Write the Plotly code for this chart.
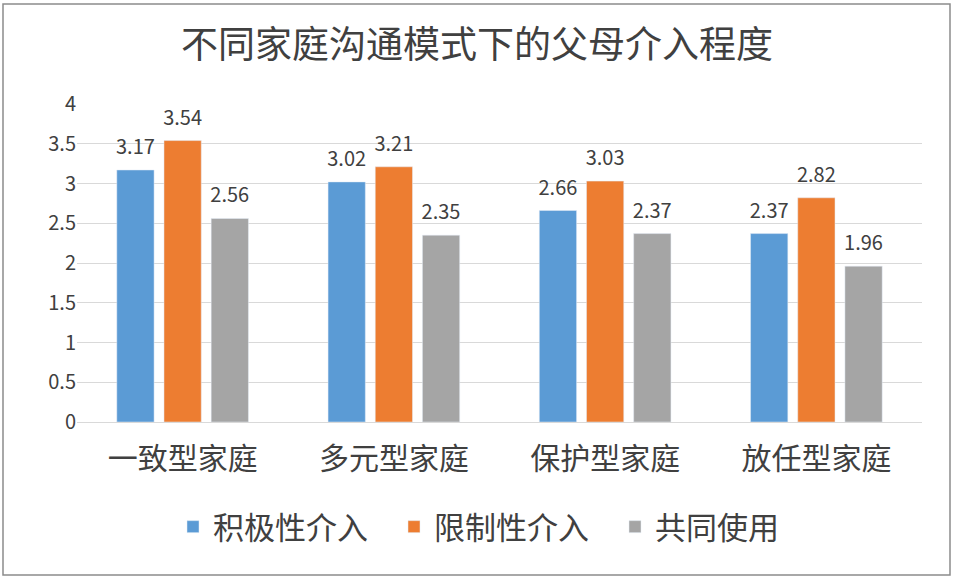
import plotly.graph_objects as go

# data
categories = ["一致型家庭", "多元型家庭", "保护型家庭", "放任型家庭"]
series_names = ["积极性介入", "限制性介入", "共同使用"]
positive = [3.17, 3.02, 2.66, 2.37]
restrictive = [3.54, 3.21, 3.03, 2.82]
shared = [2.56, 2.35, 2.37, 1.96]
y_ticks = [0, 0.5, 1, 1.5, 2, 2.5, 3, 3.5, 4]

colors = ["#5B9BD5", "#ED7D31", "#A5A5A5"]
FONT = "Noto Sans CJK SC"
TEXT = "#404040"

W, H = 954, 578
L, R, T, B = 77, 32, 104, 156
pw, ph = W - L - R, H - T - B


def px_x(x):
    return (x - L) / pw


def px_y(y):
    return (H - B - y) / ph


fig = go.Figure()
for i, (name, vals, c) in enumerate(zip(series_names, [positive, restrictive, shared], colors)):
    fig.add_trace(go.Bar(
        x=categories, y=vals, name=name, marker_color=c,
        offsetgroup=str(i), hoverinfo="x+y+name",
    ))
# value labels sit a little above the bars, like the Excel original
for i, vals in enumerate([positive, restrictive, shared]):
    fig.add_trace(go.Scatter(
        x=categories, y=vals, mode="markers+text", offsetgroup=str(i),
        text=[f"{v:.2f}" for v in vals], textposition="top center",
        textfont=dict(size=20, color=TEXT, family=FONT),
        marker=dict(size=16, opacity=0), showlegend=False, hoverinfo="skip",
        cliponaxis=False,
    ))

fig.update_layout(
    width=W, height=H,
    margin=dict(l=L, r=R, t=T, b=B),
    paper_bgcolor="white", plot_bgcolor="white",
    barmode="group", bargap=0.33, bargroupgap=0.21,
    scattermode="group", scattergap=0.33,
    font=dict(family=FONT, color=TEXT),
    title=dict(text="不同家庭沟通模式下的父母介入程度", x=0.5, xanchor="center",
               y=1 - 45 / H, yanchor="middle",
               font=dict(size=37, color=TEXT, family=FONT)),
    legend=dict(orientation="h", x=px_x(173), xanchor="left", y=px_y(527), yanchor="middle",
                font=dict(size=31, color=TEXT, family=FONT),
                itemwidth=30, entrywidth=176, traceorder="normal"),
    showlegend=True,
)
fig.update_yaxes(range=[0, 4], tickvals=y_ticks, ticktext=[f"{v:g}" for v in y_ticks],
                 showgrid=True, gridcolor="#D9D9D9", gridwidth=1,
                 zeroline=False, showline=False, ticks="",
                 tickfont=dict(size=20, color=TEXT, family=FONT))
fig.update_xaxes(showline=True, linecolor="#D9D9D9", linewidth=1, ticks="",
                 ticklabelstandoff=10,
                 tickfont=dict(size=30, color=TEXT, family=FONT))

# outer frame of the chart
fig.add_shape(type="rect", xref="paper", yref="paper",
              x0=px_x(3), x1=px_x(950), y0=px_y(575), y1=px_y(4),
              line=dict(color="#8C8C8C", width=1.5), fillcolor="rgba(0,0,0,0)")

# drop the default 8px body margin so the figure fills the window
fig.write_html("out.html", config={"displayModeBar": False},
               post_script="document.body.style.margin='0';")
